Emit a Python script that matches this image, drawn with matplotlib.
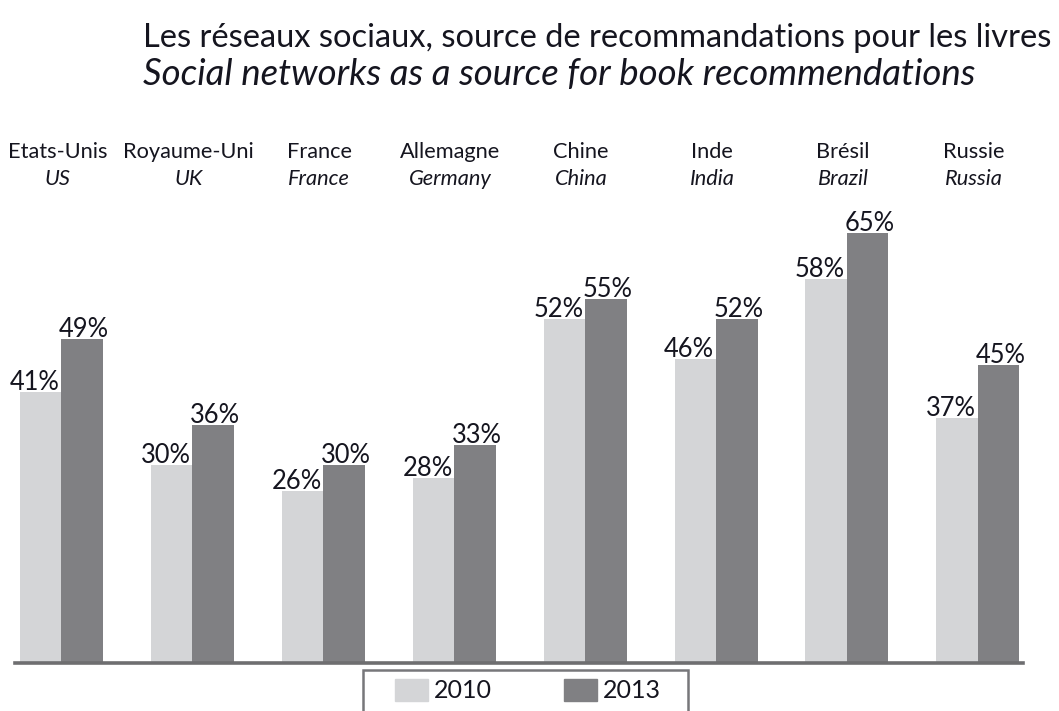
import matplotlib
matplotlib.use('Agg')
import matplotlib.pyplot as plt
import matplotlib.transforms as mtransforms
from matplotlib.patches import Patch, Rectangle

# data
countries_fr = ['Etats-Unis', 'Royaume-Uni', 'France', 'Allemagne',
                'Chine', 'Inde', 'Brésil', 'Russie']
countries_en = ['US', 'UK', 'France', 'Germany',
                'China', 'India', 'Brazil', 'Russia']
values_2010 = [41, 30, 26, 28, 52, 46, 58, 37]
values_2013 = [49, 36, 30, 33, 55, 52, 65, 45]
years = ['2010', '2013']

light = '#d4d5d7'
dark = '#808083'
txt = '#15151f'

plt.rcParams['font.family'] = ['Lato', 'DejaVu Sans']

W, H = 1059, 711
fig = plt.figure(figsize=(W / 100, H / 100), dpi=100)
ax = fig.add_axes([15 / W, 48 / H, 1008 / W, 463 / H])

w = 0.317
x = list(range(len(countries_fr)))
ax.bar([i - w / 2 for i in x], values_2010, width=w, color=light)
ax.bar([i + w / 2 for i in x], values_2013, width=w, color=dark)

ax.set_xlim(-0.355, 7.345)
ax.set_ylim(0, 70)
for s in ['top', 'left', 'right']:
    ax.spines[s].set_visible(False)
ax.spines['bottom'].set_color('#6e6e70')
ax.spines['bottom'].set_linewidth(2.6)
ax.set_xticks([])
ax.set_yticks([])

renderer = fig.canvas.get_renderer()


def fit(t, width_px):
    # scale the font so the text spans the measured width
    bb = t.get_window_extent(renderer=renderer)
    t.set_fontsize(t.get_fontsize() * width_px / bb.width)
    return t.get_fontsize()


# titles
t1 = fig.text(143 / W, 1 - 47 / H,
              'Les réseaux sociaux, source de recommandations pour les livres',
              fontsize=22, color=txt, ha='left', va='baseline')
fit(t1, 907)
t2 = fig.text(143 / W, 1 - 85 / H,
              'Social networks as a source for book recommendations',
              fontsize=22, color=txt, ha='left', va='baseline', style='italic')
fit(t2, 832)

# country labels
blend = mtransforms.blended_transform_factory(ax.transData, fig.transFigure)
shift = mtransforms.ScaledTranslation(-4 / 100, 0, fig.dpi_scale_trans)
probe = fig.text(0, 0, 'Royaume-Uni', fontsize=15)
csize = fit(probe, 131)
probe.remove()
for i in x:
    fig.text(i, 1 - 158 / H, countries_fr[i], transform=blend + shift,
             fontsize=csize, color=txt, ha='center', va='baseline')
    fig.text(i, 1 - 185 / H, countries_en[i], transform=blend + shift,
             fontsize=csize, color=txt, ha='center', va='baseline',
             style='italic')

# value labels
probe = fig.text(0, 0, '41%', fontsize=17)
vsize = fit(probe, 50)
probe.remove()
for i in x:
    ax.annotate('{}%'.format(values_2010[i]), (i - w / 2, values_2010[i]),
                xytext=(-6, 2), textcoords='offset pixels', ha='center',
                va='baseline', fontsize=vsize, color=txt)
    ax.annotate('{}%'.format(values_2013[i]), (i + w / 2, values_2013[i]),
                xytext=(2, 2), textcoords='offset pixels', ha='center',
                va='baseline', fontsize=vsize, color=txt)

# legend box, cut off by the bottom of the picture
fig.patches.append(Rectangle((363 / W, -20 / H), 325 / W, (41 + 20) / H,
                             transform=fig.transFigure, fill=False,
                             edgecolor='#77777a', linewidth=1.8))
handles = [Patch(color=light), Patch(color=dark)]
fig.legend(handles, years, loc='upper left',
           bbox_to_anchor=(395 / W, 1 - 679 / H), ncol=2, frameon=False,
           fontsize=18, handlelength=1.3, handleheight=0.95,
           handletextpad=0.25, columnspacing=2.9, borderpad=0,
           borderaxespad=0, labelcolor=txt)

fig.savefig('out.png', dpi=100)
